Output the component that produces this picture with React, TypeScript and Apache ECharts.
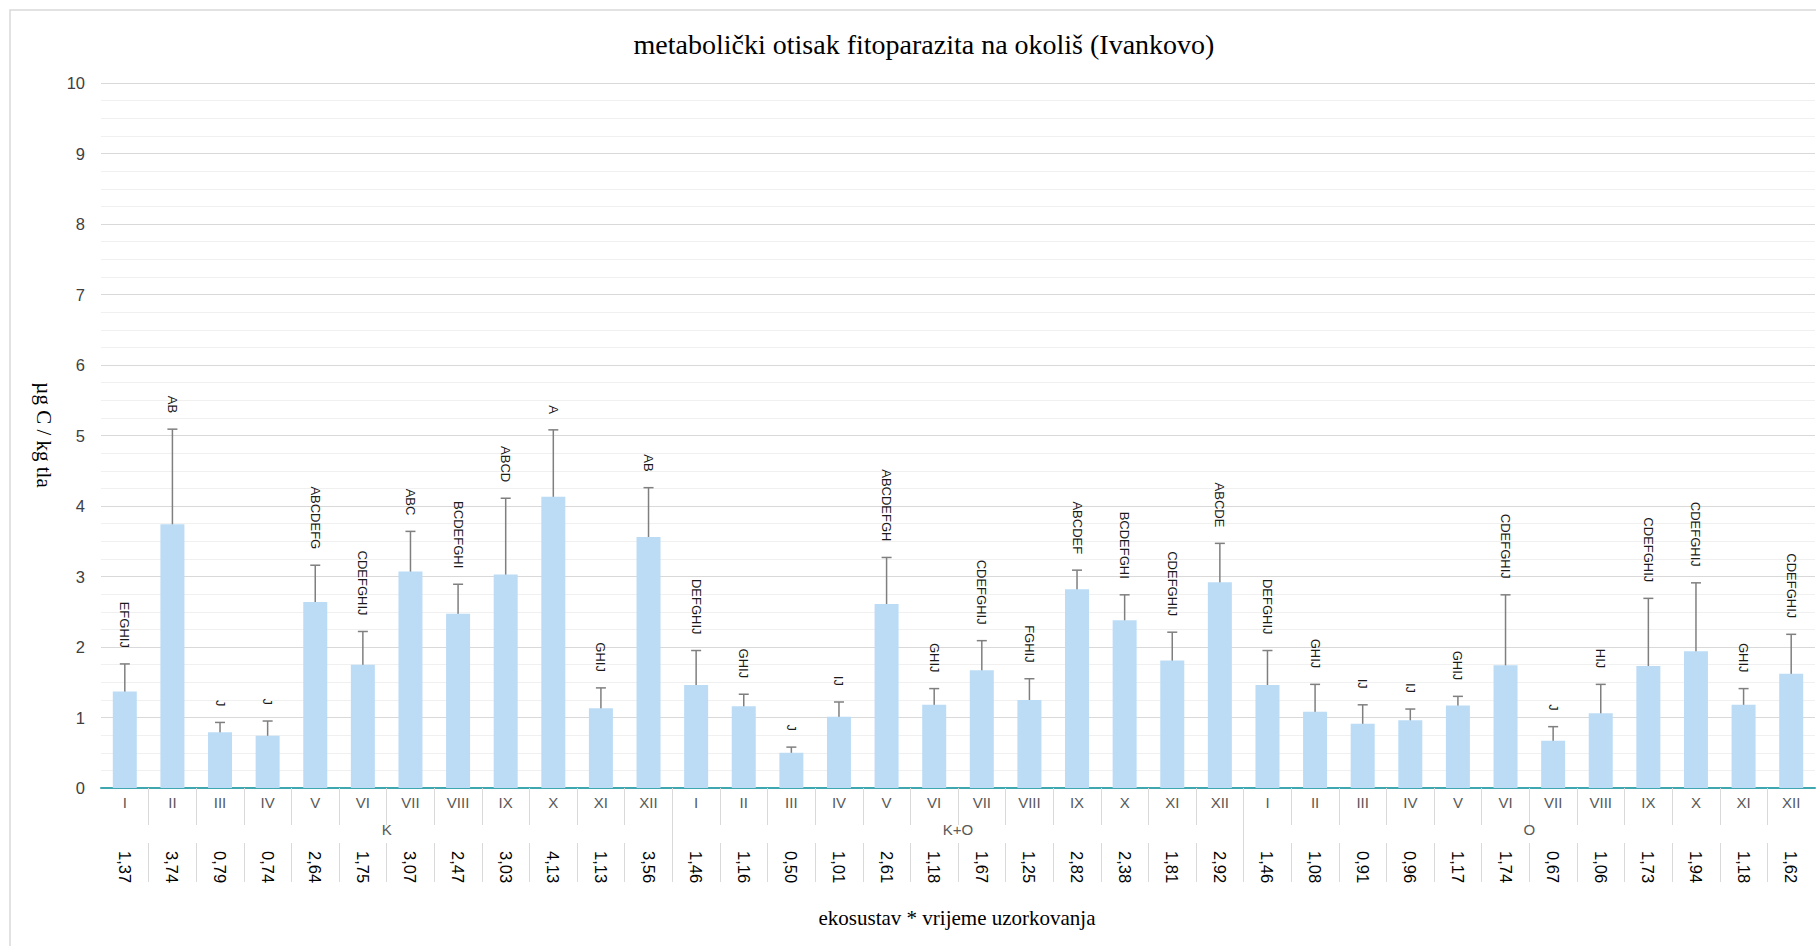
import React, { useEffect, useRef } from "react";
import * as echarts from "echarts";

const months = ["I", "II", "III", "IV", "V", "VI", "VII", "VIII", "IX", "X", "XI", "XII"];
const groups = ["K", "K+O", "O"];

const valuesK = [1.37, 3.74, 0.79, 0.74, 2.64, 1.75, 3.07, 2.47, 3.03, 4.13, 1.13, 3.56];
const valuesKO = [1.46, 1.16, 0.5, 1.01, 2.61, 1.18, 1.67, 1.25, 2.82, 2.38, 1.81, 2.92];
const valuesO = [1.46, 1.08, 0.91, 0.96, 1.17, 1.74, 0.67, 1.06, 1.73, 1.94, 1.18, 1.62];

const errK = [0.39, 1.35, 0.14, 0.21, 0.52, 0.47, 0.57, 0.42, 1.08, 0.95, 0.29, 0.7];
const errKO = [0.49, 0.17, 0.08, 0.21, 0.66, 0.23, 0.42, 0.3, 0.27, 0.36, 0.4, 0.55];
const errO = [0.49, 0.39, 0.27, 0.16, 0.13, 1.0, 0.2, 0.41, 0.96, 0.97, 0.23, 0.56];

const lettersK = ["EFGHIJ", "AB", "J", "J", "ABCDEFG", "CDEFGHIJ", "ABC", "BCDEFGHI", "ABCD", "A", "GHIJ", "AB"];
const lettersKO = ["DEFGHIJ", "GHIJ", "J", "IJ", "ABCDEFGH", "GHIJ", "CDEFGHIJ", "FGHIJ", "ABCDEF", "BCDEFGHI", "CDEFGHIJ", "ABCDE"];
const lettersO = ["DEFGHIJ", "GHIJ", "IJ", "IJ", "GHIJ", "CDEFGHIJ", "J", "HIJ", "CDEFGHIJ", "CDEFGHIJ", "GHIJ", "CDEFGHIJ"];

const title = "metabolički otisak fitoparazita na okoliš (Ivankovo)";
const xTitle = "ekosustav * vrijeme uzorkovanja";
const yTitle = "µg C / kg tla";

export default function App() {
  const ref = useRef<HTMLDivElement>(null);

  useEffect(() => {
    if (!ref.current) return;
    const chart = echarts.init(ref.current, null, { renderer: "svg" });

    const values = [...valuesK, ...valuesKO, ...valuesO];
    const errs = [...errK, ...errKO, ...errO];
    const letters = [...lettersK, ...lettersKO, ...lettersO];
    const monthCats = [...months, ...months, ...months];
    const valueLabels = values.map((v) => v.toFixed(2).replace(".", ","));
    const n = values.length;
    const sepAll: number[] = [];
    for (let i = 1; i < n; i++) sepAll.push(i);
    const groupSeps: number[] = [];
    for (let g = 1; g < groups.length; g++) groupSeps.push(g * months.length);

    const sans = "Liberation Sans";
    const serif = "Liberation Serif";

    const hiddenValueAxis = (offset: number, ticks: number[], len: number) => ({
      type: "value",
      position: "bottom",
      min: 0,
      max: n,
      interval: 1,
      offset,
      axisLine: { show: false, onZero: false },
      axisLabel: { show: false },
      splitLine: { show: false },
      axisTick: {
        show: true,
        length: len,
        customValues: ticks,
        lineStyle: { color: "#d9d9d9", width: 1 },
      },
    });

    chart.setOption({
      animation: false,
      backgroundColor: "#ffffff",
      grid: { left: 101, top: 83, width: 1714, height: 705, containLabel: false },
      graphic: [
        {
          type: "rect",
          shape: { x: 10, y: 10, width: 1900, height: 1000 },
          style: { fill: "none", stroke: "#d9d9d9", lineWidth: 1.5 },
          silent: true,
        },
        {
          type: "text",
          x: 924,
          y: 44,
          style: {
            text: title,
            align: "center",
            verticalAlign: "middle",
            fontFamily: serif,
            fontSize: 28,
            fill: "#000000",
          },
        },
        {
          type: "text",
          x: 957,
          y: 918,
          style: {
            text: xTitle,
            align: "center",
            verticalAlign: "middle",
            fontFamily: serif,
            fontSize: 21,
            fill: "#000000",
          },
        },
        {
          type: "text",
          x: 44,
          y: 435,
          rotation: -Math.PI / 2,
          style: {
            text: yTitle,
            align: "center",
            verticalAlign: "middle",
            fontFamily: serif,
            fontSize: 21,
            fill: "#000000",
          },
        },
      ],
      xAxis: [
        {
          type: "category",
          position: "bottom",
          data: monthCats,
          axisLine: { show: true, onZero: false, lineStyle: { color: "#3fa7b0", width: 2 } },
          axisTick: { show: false },
          axisLabel: { interval: 0, margin: 7, fontFamily: sans, fontSize: 15, color: "#595959" },
          splitLine: { show: false },
        },
        hiddenValueAxis(0, sepAll, 37),
        hiddenValueAxis(0, groupSeps, 94),
        {
          type: "category",
          position: "bottom",
          data: groups,
          axisLine: { show: false, onZero: false },
          axisTick: { show: false },
          axisLabel: { interval: 0, margin: 34, fontFamily: sans, fontSize: 15, color: "#595959" },
          splitLine: { show: false },
        },
        {
          type: "category",
          position: "bottom",
          offset: 55,
          data: valueLabels,
          axisLine: { show: false, onZero: false },
          axisTick: { show: false },
          axisLabel: {
            interval: 0,
            margin: 8,
            rotate: -90,
            fontFamily: sans,
            fontSize: 16.5,
            color: "#000000",
          },
          splitLine: { show: false },
        },
        hiddenValueAxis(55, sepAll, 39),
      ],
      yAxis: {
        type: "value",
        min: 0,
        max: 10,
        interval: 1,
        axisLine: { show: false },
        axisTick: { show: false },
        axisLabel: { margin: 16, fontFamily: sans, fontSize: 16.5, color: "#404040" },
        splitLine: { show: true, lineStyle: { color: "#d9d9d9", width: 1.2 } },
        minorTick: { show: false, splitNumber: 4 },
        minorSplitLine: { show: true, lineStyle: { color: "#f0f0f0", width: 1.2 } },
      },
      series: [
        {
          type: "bar",
          xAxisIndex: 0,
          yAxisIndex: 0,
          data: values,
          barWidth: 24,
          itemStyle: { color: "#bcdcf6" },
          silent: true,
        },
        {
          type: "custom",
          xAxisIndex: 0,
          yAxisIndex: 0,
          data: values.map((v, i) => [i, v, errs[i]]),
          silent: true,
          renderItem: (params: any, api: any) => {
            const i = api.value(0);
            const v = api.value(1);
            const e = api.value(2);
            const top = api.coord([i, v + e]);
            const bot = api.coord([i, v - e]);
            const x = top[0];
            const half = 5;
            const ls = { stroke: "#7f7f7f", lineWidth: 1.5 };
            return {
              type: "group",
              children: [
                { type: "line", shape: { x1: x, y1: top[1], x2: x, y2: bot[1] }, style: ls },
                { type: "line", shape: { x1: x - half, y1: top[1], x2: x + half, y2: top[1] }, style: ls },
                { type: "line", shape: { x1: x - half, y1: bot[1], x2: x + half, y2: bot[1] }, style: ls },
                {
                  type: "text",
                  x: x,
                  y: top[1] - 16,
                  rotation: -Math.PI / 2,
                  style: {
                    text: letters[params.dataIndex],
                    align: "right",
                    verticalAlign: "middle",
                    fontFamily: sans,
                    fontSize: 13,
                    fill: "#1a1a1a",
                  },
                },
              ],
            };
          },
        },
      ],
    });

    return () => chart.dispose();
  }, []);

  return (
    <div
      ref={ref}
      style={{ position: "absolute", left: 0, top: 0, width: 1816, height: 946 }}
    />
  );
}
